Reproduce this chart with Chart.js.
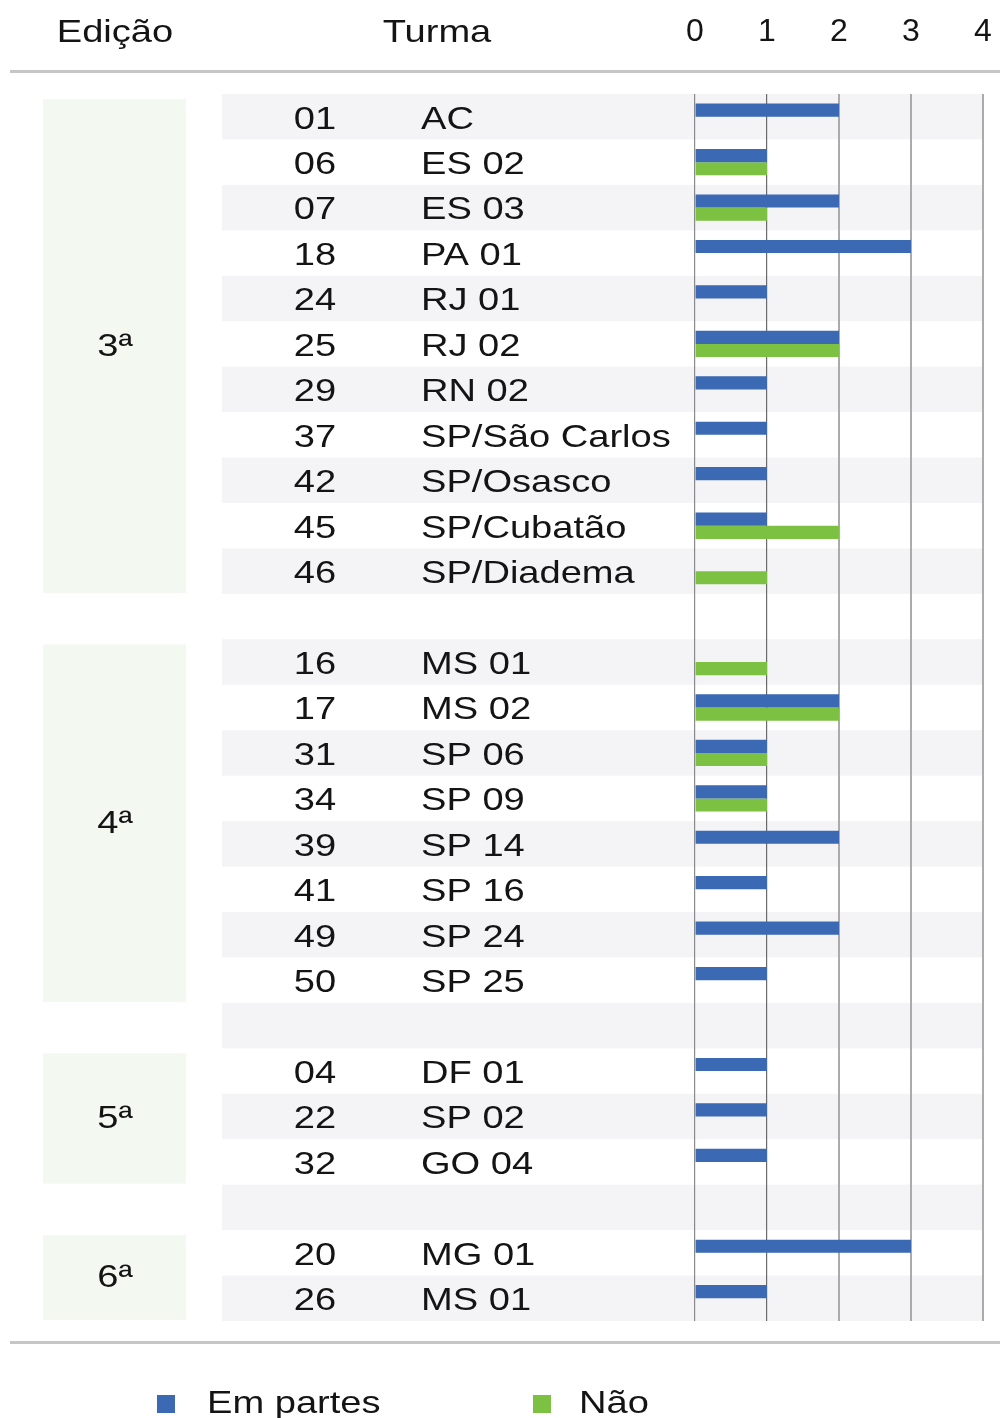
<!DOCTYPE html>
<html lang="pt-BR">
<head>
<meta charset="utf-8">
<title>Turmas por edição</title>
<script src="https://cdn.jsdelivr.net/npm/chart.js@4.4.1/dist/chart.umd.min.js"></script>
<style>
  html, body { margin: 0; padding: 0; background: #ffffff; }
  #wrap { width: 1000px; height: 1418px; }
</style>
</head>
<body>
<div id="wrap"><canvas id="grafico" width="1000" height="1418"></canvas></div>
<script>
// Edições e quantas turmas cada uma tem
const edicoes = ['3ª', '4ª', '5ª', '6ª'];
const turmasPorEdicao = [11, 8, 3, 2];

// Turmas (código e nome), na ordem em que aparecem
const codigos = ['01', '06', '07', '18', '24', '25', '29', '37', '42', '45', '46',
                 '16', '17', '31', '34', '39', '41', '49', '50',
                 '04', '22', '32',
                 '20', '26'];
const turmas = ['AC', 'ES 02', 'ES 03', 'PA 01', 'RJ 01', 'RJ 02', 'RN 02', 'SP/São Carlos', 'SP/Osasco', 'SP/Cubatão', 'SP/Diadema',
                'MS 01', 'MS 02', 'SP 06', 'SP 09', 'SP 14', 'SP 16', 'SP 24', 'SP 25',
                'DF 01', 'SP 02', 'GO 04',
                'MG 01', 'MS 01'];

// Respostas por turma
const emPartes = [2, 1, 2, 3, 1, 2, 1, 1, 1, 1, 0,
                  0, 2, 1, 1, 2, 1, 2, 1,
                  1, 1, 1,
                  3, 1];
const nao = [0, 1, 1, 0, 0, 2, 0, 0, 0, 2, 1,
             1, 2, 1, 1, 0, 0, 0, 0,
             0, 0, 0,
             0, 0];

const ticksX = [0, 1, 2, 3, 4];

const AZUL = '#3b69b4';
const VERDE = '#7cc142';
const FONTE = '"Liberation Sans", Arial, sans-serif';

// Monta as linhas da tabela, com uma linha vazia entre edições
const linhas = [];
const grupos = [];
let k = 0;
edicoes.forEach((ed, g) => {
    if (g > 0) linhas.push({ codigo: '', turma: '', a: null, b: null });
    const inicio = linhas.length;
    for (let i = 0; i < turmasPorEdicao[g]; i++, k++) {
        linhas.push({ codigo: codigos[k], turma: turmas[k], a: emPartes[k] || null, b: nao[k] || null });
    }
    grupos.push({ nome: ed, inicio: inicio, fim: linhas.length - 1 });
});

function texto(ctx, str, x, y, align) {
    // fonte alargada na horizontal
    const esc = 1.19;
    ctx.save();
    ctx.translate(x, y);
    ctx.scale(esc, 1);
    ctx.textAlign = align || 'left';
    ctx.textBaseline = 'middle';
    ctx.fillText(str, 0, 0);
    ctx.restore();
}

const tabela = {
    id: 'tabela',
    beforeDraw(chart) {
        const ctx = chart.ctx;
        const y = chart.scales.y;
        const area = chart.chartArea;
        const meia = (y.getPixelForValue(1) - y.getPixelForValue(0)) / 2;
        ctx.save();
        // faixas alternadas
        ctx.fillStyle = '#f4f4f7';
        linhas.forEach((l, i) => {
            if (i % 2 === 0) {
                const c = y.getPixelForValue(i);
                ctx.fillRect(222, c - meia, area.right - 222, meia * 2);
            }
        });
        // caixas das edições
        ctx.fillStyle = '#f3f8f1';
        grupos.forEach(g => {
            const topo = y.getPixelForValue(g.inicio) - meia;
            const base = y.getPixelForValue(g.fim) + meia;
            ctx.fillRect(43, topo + 5, 143, base - topo - 6);
        });
        ctx.restore();
    },
    afterDraw(chart) {
        const ctx = chart.ctx;
        const y = chart.scales.y;
        ctx.save();
        ctx.fillStyle = '#141414';
        ctx.font = '32px ' + FONTE;

        // cabeçalho
        texto(ctx, 'Edição', 115, 33, 'center');
        texto(ctx, 'Turma', 437, 33, 'center');

        // linhas horizontais
        ctx.fillStyle = '#c6c6c6';
        ctx.fillRect(10, 70, 990, 3);
        ctx.fillRect(10, 1341, 990, 3);

        // códigos e nomes das turmas
        ctx.fillStyle = '#141414';
        linhas.forEach((l, i) => {
            const c = y.getPixelForValue(i) + 3;
            if (l.codigo) texto(ctx, l.codigo, 315, c, 'center');
            if (l.turma) texto(ctx, l.turma, 421, c, 'left');
        });

        // rótulos das edições
        grupos.forEach(g => {
            const c = (y.getPixelForValue(g.inicio) + y.getPixelForValue(g.fim)) / 2 + 3;
            texto(ctx, g.nome, 115, c, 'center');
        });

        // legenda
        const legenda = [[157, 207], [533, 579]];
        chart.data.datasets.forEach((ds, i) => {
            ctx.fillStyle = ds.backgroundColor;
            ctx.fillRect(legenda[i][0], 1395, 18, 18);
            ctx.fillStyle = '#141414';
            texto(ctx, ds.label, legenda[i][1], 1404, 'left');
        });
        ctx.restore();
    }
};

const grafico = document.getElementById('grafico').getContext('2d');
const chart = new Chart(grafico, {
    type: 'bar',
    data: {
        labels: linhas.map(l => l.turma),
        datasets: [{
            label: 'Em partes',
            data: linhas.map(l => l.a),
            backgroundColor: AZUL,
            categoryPercentage: 0.58,
            barPercentage: 1.0
        }, {
            label: 'Não',
            data: linhas.map(l => l.b),
            backgroundColor: VERDE,
            categoryPercentage: 0.58,
            barPercentage: 1.0
        }]
    },
    options: {
        indexAxis: 'y',
        responsive: false,
        animation: false,
        devicePixelRatio: 1,
        layout: { padding: { top: 0, left: 0, right: 17, bottom: 97 } },
        plugins: {
            legend: { display: false },
            tooltip: { enabled: false }
        },
        scales: {
            x: {
                position: 'top',
                min: 0,
                max: 4,
                afterBuildTicks: scale => { scale.ticks = ticksX.map(v => ({ value: v })); },
                afterFit: scale => {
                    scale.height = 94;
                    scale.paddingLeft = 0;
                    scale.paddingRight = 0;
                },
                border: { display: false },
                grid: {
                    drawTicks: false,
                    color: ctx => ctx.index === 1 ? '#6a6a6a' : (ctx.index === 0 ? '#8a8a8a' : '#ababab'),
                    lineWidth: ctx => ctx.index <= 1 ? 1.2 : 2
                },
                ticks: {
                    padding: 43,
                    color: '#141414',
                    font: { family: FONTE, size: 32 }
                }
            },
            y: {
                afterFit: scale => { scale.width = 695; },
                border: { display: false },
                grid: { display: false },
                ticks: { display: false }
            }
        }
    },
    plugins: [tabela]
});
</script>
</body>
</html>
